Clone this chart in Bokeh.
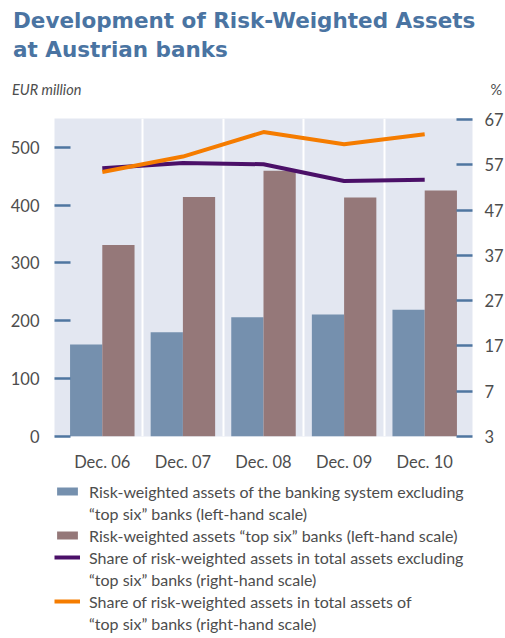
import numpy as np
from bokeh.plotting import figure
from bokeh.layouts import column
from bokeh.models import (Range1d, LinearAxis, FixedTicker, Legend, LegendItem, Grid,
                          ColumnDataSource, Div)
from bokeh.transform import dodge
from bokeh.embed import file_html
from bokeh.resources import INLINE

categories = ["Dec. 06", "Dec. 07", "Dec. 08", "Dec. 09", "Dec. 10"]
rwa_excl_top6 = [159, 180, 206, 211, 219]
rwa_top6 = [331, 414, 459, 413, 425]
share_excl_top6 = [56.2, 57.4, 57.1, 53.4, 53.7]
share_top6 = [55.4, 58.8, 64.2, 61.5, 63.7]
left_ticks = [0, 100, 200, 300, 400, 500]
right_ticks = [-3, 7, 17, 27, 37, 47, 57, 67]
right_tick_labels = ["3", "7", "17", "27", "37", "47", "57", "67"]
legend_labels = [
    "Risk-weighted assets of the banking system excluding\n\u201ctop six\u201d banks (left-hand scale)",
    "Risk-weighted assets \u201ctop six\u201d banks (left-hand scale)",
    "Share of risk-weighted assets in total assets excluding\n\u201ctop six\u201d banks (right-hand scale)",
    "Share of risk-weighted assets in total assets of\n\u201ctop six\u201d banks (right-hand scale)",
]

FONT = "Lato"
TXT = "#4d4d4d"
TICK = "#4F76A0"
TITLE_COLOR = "#4A74A2"
C_BLUE, C_PINK, C_PURPLE, C_ORANGE = "#7590AE", "#957879", "#4B1068", "#F57C00"

# ---------- header (title + units) ----------
header_html = (
    '<div style="position:relative;width:505px;height:106px;">'
    '<div style="position:absolute;left:13px;top:6px;white-space:nowrap;'
    "font-family:'DejaVu Sans';font-weight:bold;font-size:21.5px;line-height:29px;"
    f'color:{TITLE_COLOR};">Development of Risk-Weighted Assets<br>at Austrian banks</div>'
    '<div style="position:absolute;left:12px;top:83px;white-space:nowrap;'
    f"font-family:'Lato';font-style:italic;font-size:14.5px;line-height:14.5px;color:{TXT};\">"
    'EUR million</div>'
    '<div style="position:absolute;right:3px;top:83px;'
    f"font-family:'Lato';font-size:14.5px;line-height:14.5px;color:{TXT};\">%</div>"
    '</div>'
)
hdr = Div(text=header_html, width=505, height=106, margin=0)

# ---------- main chart ----------
src = ColumnDataSource(dict(
    x=list(range(len(categories))),
    excl=rwa_excl_top6, top=rwa_top6,
    sh_excl=share_excl_top6, sh_top=share_top6,
))

p = figure(frame_width=418, frame_height=318, output_backend="svg", toolbar_location=None,
           x_range=Range1d(-0.593, 4.593), y_range=Range1d(0, 549.5),
           min_border_left=54, min_border_right=33, min_border_top=12,
           min_border_bottom=40, y_axis_location=None, x_axis_location=None)
p.extra_y_ranges = {"pct": Range1d(-3, 67.2)}
p.background_fill_color = "#E3E7F1"
p.border_fill_color = "white"
p.outline_line_color = None

xax = LinearAxis(ticker=FixedTicker(ticks=list(range(len(categories)))),
                 major_label_overrides={i: c for i, c in enumerate(categories)})
yl = LinearAxis(ticker=FixedTicker(ticks=left_ticks))
yr = LinearAxis(y_range_name="pct", ticker=FixedTicker(ticks=right_ticks),
                major_label_overrides={t: l for t, l in zip(right_ticks, right_tick_labels)})
for ax in (xax, yl, yr):
    ax.axis_line_color = None
    ax.minor_tick_line_color = None
    ax.major_label_text_font = FONT
    ax.major_label_text_font_size = "16.5px"
    ax.major_label_text_color = TXT
    ax.axis_label_standoff = 0
xax.major_tick_line_color = None
xax.major_label_standoff = 9
for ax in (yl, yr):
    ax.major_tick_in = 16
    ax.major_tick_out = 0
    ax.major_tick_line_color = TICK
    ax.major_tick_line_width = 2.5
yl.major_label_standoff = 15
yr.major_label_standoff = 12
p.add_layout(xax, "below")
p.add_layout(yl, "left")
p.add_layout(yr, "right")

p.xgrid.grid_line_color = None
p.ygrid.grid_line_color = None
p.add_layout(Grid(dimension=0, ticker=FixedTicker(ticks=[0.5, 1.5, 2.5, 3.5]),
                  grid_line_color="white", grid_line_width=2))

p.vbar(x=dodge("x", -0.2, range=p.x_range), top="excl", width=0.4, source=src,
       fill_color=C_BLUE, line_color=None)
p.vbar(x=dodge("x", 0.2, range=p.x_range), top="top", width=0.4, source=src,
       fill_color=C_PINK, line_color=None)
p.line(x="x", y="sh_excl", source=src, y_range_name="pct", line_color=C_PURPLE, line_width=4)
p.line(x="x", y="sh_top", source=src, y_range_name="pct", line_color=C_ORANGE, line_width=4)

# ---------- legend panel ----------
leg = figure(width=505, height=162, output_backend="svg", toolbar_location=None,
             x_range=Range1d(0, 1), y_range=Range1d(0, 1), min_border=0,
             x_axis_location=None, y_axis_location=None)
leg.outline_line_color = None
leg.xgrid.grid_line_color = None
leg.ygrid.grid_line_color = None
proxy = ColumnDataSource(dict(x=[np.nan], y=[np.nan]))
g1 = leg.vbar(x="x", top="y", width=0.1, source=proxy, fill_color=C_BLUE, line_color=None)
g2 = leg.vbar(x="x", top="y", width=0.1, source=proxy, fill_color=C_PINK, line_color=None)
g3 = leg.line(x="x", y="y", source=proxy, line_color=C_PURPLE, line_width=4)
g4 = leg.line(x="x", y="y", source=proxy, line_color=C_ORANGE, line_width=4)

items = []
for lab, g in zip(legend_labels, [g1, g2, g3, g4]):
    lines = lab.split("\n")
    items.append(LegendItem(label=lines[0], renderers=[g]))
    for ln in lines[1:]:
        blank = leg.line(x="x", y="y", source=proxy, line_alpha=0)
        items.append(LegendItem(label=ln, renderers=[blank]))

legend = Legend(items=items, location=(0, 4))
legend.border_line_color = None
legend.background_fill_alpha = 0
legend.padding = 0
legend.margin = 0
legend.spacing = 0
legend.glyph_width = 26
legend.glyph_height = 10
legend.label_height = 22
legend.label_standoff = 9
legend.label_text_font = FONT
legend.label_text_font_size = "16px"
legend.label_text_color = TXT
leg.add_layout(legend)

layout = column(hdr, p, leg, spacing=0)
open("out.html", "w").write(file_html(layout, INLINE))
